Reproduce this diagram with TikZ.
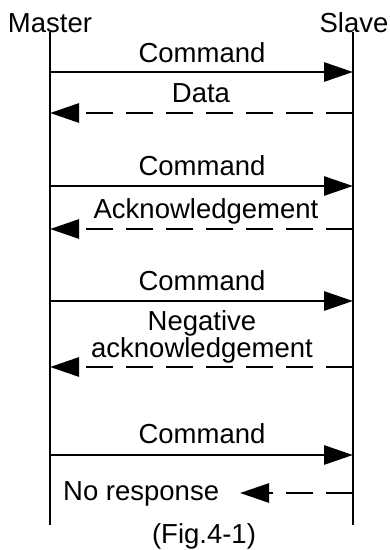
\documentclass[tikz,border=0pt]{standalone}
\usepackage{fontspec}
\setmainfont{Liberation Sans}
\usetikzlibrary{arrows.meta}
\begin{document}
\begin{tikzpicture}[x=1pt,y=-1pt,
  lbl/.style={anchor=base,inner sep=0pt,font=\fontsize{27.5}{31}\selectfont},
  life/.style={line width=2.8pt},
  msg/.style={line width=2.8pt,-{Triangle[length=29pt,width=19pt]}},
  rsp/.style={msg,dash pattern=on 27pt off 13pt}]
\useasboundingbox (0,0) rectangle (390,550);
% participants
\node[lbl] (master) at (50,32) {Master};
\node[lbl] (slave) at (354,32) {Slave};
\coordinate (mtop) at (50,32);
\coordinate (mbot) at (50,525);
\coordinate (stop) at (353,32);
\coordinate (sbot) at (353,525);
\draw[life] (mtop) -- (mbot);
\draw[life] (stop) -- (sbot);
% message end points
\foreach \n/\y in {1/72,2/113,3/186,4/229,5/301,6/367,7/455,8/493}{
  \coordinate (m\n) at (50,\y);
  \coordinate (s\n) at (353,\y);
}
\coordinate (nr) at (240,493);
% messages
\draw[msg] (m1) -- (s1);
\node[lbl] (t1) at (202,62) {Command};
\draw[rsp] (s2) -- (m2);
\node[lbl] (t2) at (201,102) {Data};
\draw[msg] (m3) -- (s3);
\node[lbl] (t3) at (202,175) {Command};
\draw[rsp] (s4) -- (m4);
\node[lbl] (t4) at (206,218) {Acknowledgement};
\draw[msg] (m5) -- (s5);
\node[lbl] (t5) at (202,290) {Command};
\draw[rsp] (s6) -- (m6);
\node[lbl] (t6a) at (202,330) {Negative};
\node[lbl] (t6b) at (202,357) {acknowledgement};
\draw[msg] (m7) -- (s7);
\node[lbl] (t7) at (202,443) {Command};
\draw[rsp] (s8) -- (nr);
\node[lbl,anchor=base west] (t8) at (63,500) {No response};
\node[lbl] (fig) at (204,543) {(Fig.4-1)};
\end{tikzpicture}
\end{document}
